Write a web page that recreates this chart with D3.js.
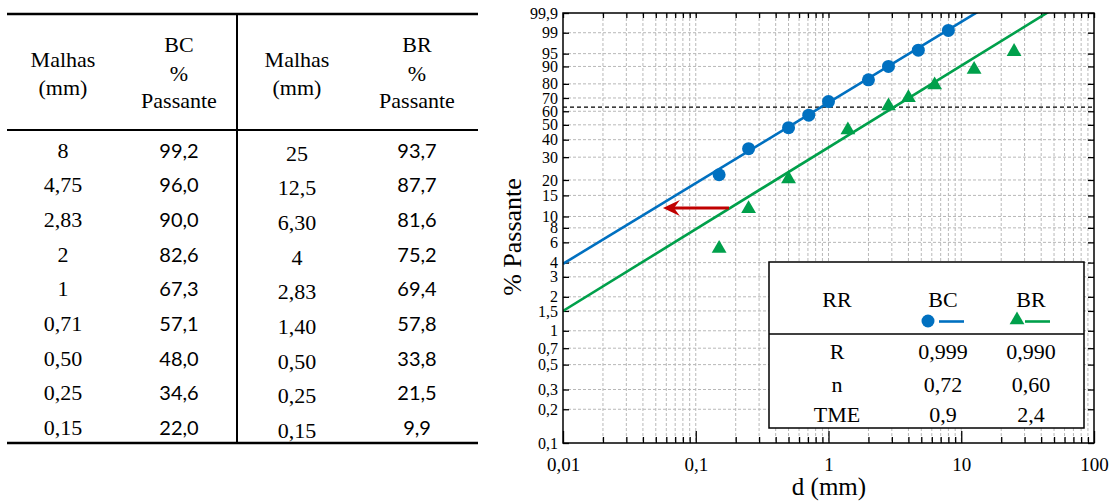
<!DOCTYPE html>
<html>
<head>
<meta charset="utf-8">
<script src="https://cdn.jsdelivr.net/npm/d3@7"></script>
<style>
  body { margin: 0; background: #fff; }
  svg text { font-family: "Liberation Serif", "Times New Roman", serif; fill: #000; }
  svg text.sans { font-family: Lato, "Liberation Sans", sans-serif; }
</style>
</head>
<body>
<svg id="chart" width="1111" height="503"></svg>
<script>
// ---- sieve analysis table ----
const bcMeshLabels = ["8", "4,75", "2,83", "2", "1", "0,71", "0,50", "0,25", "0,15"];
const bcPassLabels = ["99,2", "96,0", "90,0", "82,6", "67,3", "57,1", "48,0", "34,6", "22,0"];
const brMeshLabels = ["25", "12,5", "6,30", "4", "2,83", "1,40", "0,50", "0,25", "0,15"];
const brPassLabels = ["93,7", "87,7", "81,6", "75,2", "69,4", "57,8", "33,8", "21,5", "9,9"];

// ---- plotted points (mesh size in mm, cumulative % passing) ----
const bcSize = [8, 4.75, 2.83, 2, 1, 0.71, 0.5, 0.25, 0.15];
const bcPass = [99.2, 96.0, 90.0, 82.6, 67.3, 57.1, 48.0, 34.6, 22.0];
const brSize = [25, 12.5, 6.3, 4, 2.83, 1.4, 0.5, 0.25, 0.15];
const brPass = [95.6, 88.5, 79.2, 70.2, 64.0, 46.4, 20.4, 11.6, 5.3];

// ---- Rosin-Rammler fit lines: slope n and characteristic size d63 (mm) ----
const fitNames = ["BC", "BR"];
const fitN = [0.72, 0.73];
const fitD63 = [0.88, 3.12];

// ---- axis ticks ----
const xMajor = [0.01, 0.1, 1, 10, 100];
const yTicks = [99.9, 99, 95, 90, 80, 70, 60, 50, 40, 30, 20, 15, 10, 8, 6, 4, 3, 2, 1.5, 1, 0.7, 0.5, 0.3, 0.2, 0.1];

// ---- legend statistics ----
const statNames = ["R", "n", "TME"];
const statBC = ["0,999", "0,72", "0,9"];
const statBR = ["0,990", "0,60", "2,4"];

// reference line at 63.2 % passing and the arrow marking the fines
const p63 = 63.2;
const arrowFrom = { d: 0.178, p: 11.8 };
const arrowTo = { d: 0.0566, p: 11.8 };

const BLUE = "#0070C0", GREEN = "#00A04B", RED = "#C00000";
const ptFmt = d3.formatLocale({ decimal: ",", thousands: ".", grouping: [3], currency: ["", ""] }).format("~g");

const svg = d3.select("#chart");

// =================== table ===================
const tbl = svg.append("g");
const tL = 7, tR = 478, rTop = 14, rHead = 130, rBot = 443, vSplit = 237;
tbl.append("line").attr("x1", tL).attr("x2", tR).attr("y1", rTop).attr("y2", rTop).attr("stroke", "#000").attr("stroke-width", 2.5);
tbl.append("line").attr("x1", tL).attr("x2", tR).attr("y1", rHead).attr("y2", rHead).attr("stroke", "#000").attr("stroke-width", 2);
tbl.append("line").attr("x1", tL).attr("x2", tR).attr("y1", rBot).attr("y2", rBot).attr("stroke", "#000").attr("stroke-width", 2.5);
tbl.append("line").attr("x1", vSplit).attr("x2", vSplit).attr("y1", rTop).attr("y2", rBot).attr("stroke", "#000").attr("stroke-width", 2);

const colX = [63, 179, 297, 417];
const headFont = 22;
[[colX[0], ["Malhas", "(mm)"], [67, 95]],
 [colX[1], ["BC", "%", "Passante"], [52, 81, 108]],
 [colX[2], ["Malhas", "(mm)"], [67, 95]],
 [colX[3], ["BR", "%", "Passante"], [52, 81, 108]]].forEach(([cx, lines, ys]) => {
  lines.forEach((s, i) => {
    tbl.append("text").attr("x", cx).attr("y", ys[i]).attr("text-anchor", "middle")
      .attr("font-size", headFont).text(s);
  });
});

const rowY = i => 157.5 + i * 34.7;
bcMeshLabels.forEach((s, i) => {
  tbl.append("text").attr("x", colX[0]).attr("y", rowY(i)).attr("text-anchor", "middle").attr("font-size", 22).text(s);
  tbl.append("text").attr("class", "sans").attr("x", colX[1]).attr("y", rowY(i)).attr("text-anchor", "middle").attr("font-size", 20).text(bcPassLabels[i]);
});
brMeshLabels.forEach((s, i) => {
  tbl.append("text").attr("x", colX[2]).attr("y", rowY(i) + 3).attr("text-anchor", "middle").attr("font-size", 22).text(s);
  tbl.append("text").attr("class", "sans").attr("x", colX[3]).attr("y", rowY(i)).attr("text-anchor", "middle").attr("font-size", 20).text(brPassLabels[i]);
});

// =================== Rosin-Rammler chart ===================
const X0 = 563, X1 = 1094, Y0 = 13, Y1 = 443;
const x = d3.scaleLog().domain([0.01, 100]).range([X0, X1]);
// Rosin-Rammler ordinate: log10(-ln(1 - P))
const T = p => Math.log10(-Math.log(1 - p / 100));
const yT = d3.scaleLinear().domain([T(0.1), T(99.9)]).range([Y1, Y0]);
const y = p => yT(T(p));

const xAll = [];
[0.01, 0.1, 1, 10].forEach(dec => { for (let k = 1; k <= 9; k++) xAll.push(+(k * dec).toPrecision(3)); });
xAll.push(100);
const xMinor = xAll.filter(v => !xMajor.includes(v));

const plot = svg.append("g");
plot.append("defs").append("clipPath").attr("id", "plotClip")
  .append("rect").attr("x", X0).attr("y", Y0).attr("width", X1 - X0).attr("height", Y1 - Y0);

// grid
const grid = plot.append("g").attr("stroke", "#b8b8b8").attr("stroke-width", 1).attr("stroke-dasharray", "3,2");
grid.selectAll("line.v").data(xAll.filter(v => v > 0.01 && v < 100)).join("line")
  .attr("x1", d => x(d)).attr("x2", d => x(d)).attr("y1", Y0).attr("y2", Y1);
grid.selectAll("line.h").data(yTicks.filter(v => v > 0.1 && v < 99.9)).join("line")
  .attr("x1", X0).attr("x2", X1).attr("y1", d => y(d)).attr("y2", d => y(d));

// axes
const styleAxis = g => {
  g.select(".domain").remove();
  g.selectAll(".tick line").attr("stroke", "#000").attr("stroke-width", 1.3);
};
plot.append("g").attr("transform", `translate(0,${Y1})`)
  .call(d3.axisBottom(x).tickValues(xMajor).tickSizeInner(-12).tickSizeOuter(0).tickPadding(15).tickFormat(ptFmt))
  .call(styleAxis)
  .call(g => g.selectAll("text").attr("font-size", 19));
plot.append("g").attr("transform", `translate(0,${Y1})`)
  .call(d3.axisBottom(x).tickValues(xMinor).tickSizeInner(-6).tickSizeOuter(0).tickFormat(""))
  .call(styleAxis);
plot.append("g").attr("transform", `translate(0,${Y0})`)
  .call(d3.axisTop(x).tickValues(xAll).tickSizeInner(-5).tickSizeOuter(0).tickFormat(""))
  .call(styleAxis);
plot.append("g").attr("transform", `translate(${X0},0)`)
  .call(d3.axisLeft(yT).tickValues(yTicks.map(T)).tickSizeInner(-6).tickSizeOuter(0).tickPadding(5)
    .tickFormat((v, i) => ptFmt(yTicks[i])))
  .call(styleAxis)
  .call(g => g.selectAll("text").attr("font-size", 16));
plot.append("g").attr("transform", `translate(${X1},0)`)
  .call(d3.axisRight(yT).tickValues(yTicks.map(T)).tickSizeInner(-6).tickSizeOuter(0).tickFormat(""))
  .call(styleAxis);

// 63.2 % reference
plot.append("line").attr("x1", X0).attr("x2", X1).attr("y1", y(p63)).attr("y2", y(p63))
  .attr("stroke", "#000").attr("stroke-width", 1.2).attr("stroke-dasharray", "4,3");

// fit lines
const fitColors = [BLUE, GREEN];
const lineGen = (n, d63) => d3.line().x(d => x(d)).y(d => yT(n * (Math.log10(d) - Math.log10(d63))));
fitNames.forEach((name, i) => {
  plot.append("path").attr("clip-path", "url(#plotClip)")
    .attr("d", lineGen(fitN[i], fitD63[i])([0.01, 100]))
    .attr("fill", "none").attr("stroke", fitColors[i]).attr("stroke-width", 2.6);
});

// arrow
const ax0 = x(arrowFrom.d), ax1 = x(arrowTo.d), ay = y(arrowTo.p);
plot.append("line").attr("x1", ax0).attr("x2", ax1 + 10).attr("y1", ay).attr("y2", ay)
  .attr("stroke", RED).attr("stroke-width", 3);
plot.append("path")
  .attr("d", `M${ax1},${ay} L${ax1 + 17},${ay - 8} L${ax1 + 11},${ay} L${ax1 + 17},${ay + 8} Z`)
  .attr("fill", RED);

// markers
plot.selectAll("circle.bc").data(bcSize).join("circle")
  .attr("cx", d => x(d)).attr("cy", (d, i) => y(bcPass[i])).attr("r", 6.5).attr("fill", BLUE);
const tri = d3.symbol(d3.symbolTriangle).size(95);
plot.selectAll("path.br").data(brSize).join("path")
  .attr("d", tri).attr("transform", (d, i) => `translate(${x(d)},${y(brPass[i])})`).attr("fill", GREEN);

// frame
plot.append("rect").attr("x", X0).attr("y", Y0).attr("width", X1 - X0).attr("height", Y1 - Y0)
  .attr("fill", "none").attr("stroke", "#000").attr("stroke-width", 1.5);

// axis titles
svg.append("text").attr("transform", "translate(512,237) rotate(-90)").attr("text-anchor", "middle")
  .attr("dominant-baseline", "central").attr("font-size", 26).text("% Passante");
svg.append("text").attr("x", 829).attr("y", 495).attr("text-anchor", "middle").attr("font-size", 25).text("d (mm)");

// =================== legend / statistics box ===================
const lg = svg.append("g");
const LX0 = 769, LX1 = 1084, LY0 = 262, LY1 = 428, LDiv = 334;
lg.append("rect").attr("x", LX0).attr("y", LY0).attr("width", LX1 - LX0).attr("height", LY1 - LY0)
  .attr("fill", "#fff").attr("stroke", "#000").attr("stroke-width", 1.5);
lg.append("line").attr("x1", LX0).attr("x2", LX1).attr("y1", LDiv).attr("y2", LDiv).attr("stroke", "#000").attr("stroke-width", 1.5);
const lcol = [837, 943, 1031];
lg.append("text").attr("x", lcol[0]).attr("y", 307).attr("text-anchor", "middle").attr("font-size", 22).text("RR");
lg.append("text").attr("x", lcol[1]).attr("y", 307).attr("text-anchor", "middle").attr("font-size", 22).text(fitNames[0]);
lg.append("text").attr("x", lcol[2]).attr("y", 307).attr("text-anchor", "middle").attr("font-size", 22).text(fitNames[1]);
// series keys
lg.append("circle").attr("cx", 928).attr("cy", 321).attr("r", 6.5).attr("fill", BLUE);
lg.append("line").attr("x1", 939).attr("x2", 964).attr("y1", 321.5).attr("y2", 321.5).attr("stroke", BLUE).attr("stroke-width", 2.6);
lg.append("path").attr("d", tri).attr("transform", "translate(1017,320)").attr("fill", GREEN);
lg.append("line").attr("x1", 1025).attr("x2", 1050).attr("y1", 321.5).attr("y2", 321.5).attr("stroke", GREEN).attr("stroke-width", 2.6);
const statY = [359, 392, 422];
statNames.forEach((s, i) => {
  lg.append("text").attr("x", lcol[0]).attr("y", statY[i]).attr("text-anchor", "middle").attr("font-size", 22).text(s);
  lg.append("text").attr("x", lcol[1]).attr("y", statY[i]).attr("text-anchor", "middle").attr("font-size", 22).text(statBC[i]);
  lg.append("text").attr("x", lcol[2]).attr("y", statY[i]).attr("text-anchor", "middle").attr("font-size", 22).text(statBR[i]);
});
</script>
</body>
</html>
